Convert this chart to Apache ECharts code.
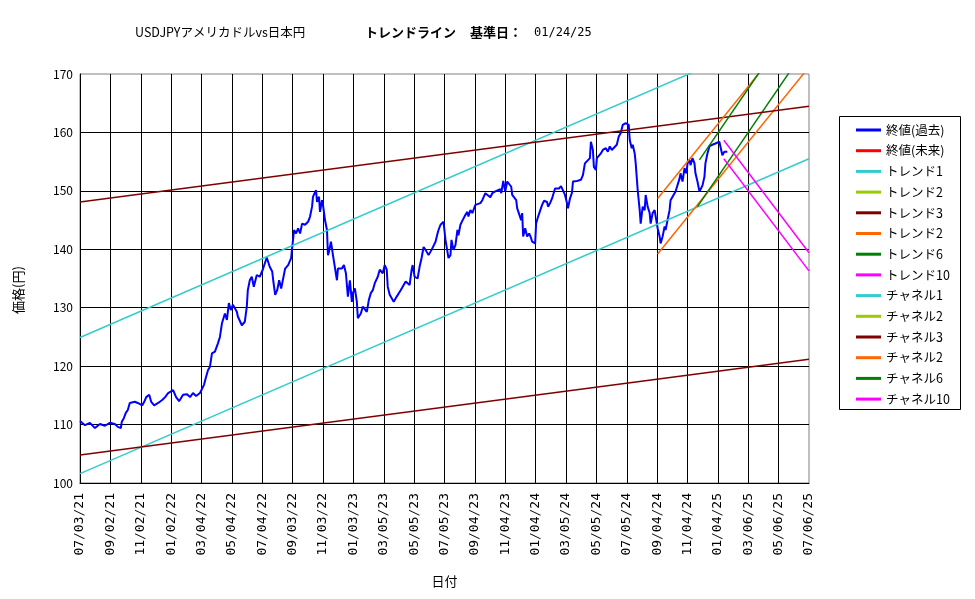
<!DOCTYPE html>
<html>
<head>
<meta charset="utf-8">
<title>USDJPY トレンドライン</title>
<script src="https://cdn.jsdelivr.net/npm/echarts@6/dist/echarts.min.js"></script>
<style>
  html, body { margin: 0; padding: 0; background: #fff; }
  #chart { width: 975px; height: 599px; }
</style>
</head>
<body>
<div id="chart"></div>
<script>
// x軸は 07/03/21 からの経過日数 (61日ごとに目盛り)
const xTickLabels = [
  '07/03/21', '09/02/21', '11/02/21', '01/02/22', '03/04/22', '05/04/22', '07/04/22',
  '09/03/22', '11/03/22', '01/03/23', '03/05/23', '05/05/23', '07/05/23', '09/04/23',
  '11/04/23', '01/04/24', '03/05/24', '05/05/24', '07/05/24', '09/04/24', '11/04/24',
  '01/04/25', '03/06/25', '05/06/25', '07/06/25'
]
const tickDays = 61
const yTicks = [100, 110, 120, 130, 140, 150, 160, 170]

// 終値(過去)
const closeDays = [
  0, 10, 20, 30, 40, 50, 60, 70, 76, 82, 84, 88, 92, 96, 100, 104, 110, 116, 120, 125,
  129, 133, 139, 143, 149, 157, 165, 171, 177, 187, 193, 199, 207, 215, 221, 227, 233, 241, 245, 249,
  253, 257, 261, 265, 271, 277, 281, 285, 291, 295, 299, 303, 307, 315, 317, 325, 331, 335, 337, 341,
  345, 349, 355, 361, 367, 375, 381, 386, 388, 392, 396, 400, 404, 408, 412, 418, 424, 426, 430, 434,
  438, 442, 446, 452, 458, 462, 466, 468, 474, 476, 480, 482, 486, 488, 492, 496, 498, 500, 504, 508,
  512, 516, 518, 526, 530, 534, 538, 542, 546, 548, 552, 556, 558, 564, 568, 572, 576, 580, 584, 588,
  592, 598, 602, 608, 612, 616, 618, 622, 626, 630, 636, 638, 644, 648, 654, 658, 662, 666, 668, 672,
  678, 682, 686, 690, 694, 698, 700, 706, 710, 714, 718, 720, 724, 726, 730, 734, 738, 740, 744, 746,
  750, 754, 758, 760, 764, 768, 774, 778, 780, 784, 788, 794, 798, 804, 808, 814, 818, 824, 828, 834,
  838, 844, 846, 850, 854, 858, 862, 866, 868, 872, 876, 878, 882, 886, 888, 890, 894, 898, 902, 906,
  908, 914, 916, 920, 924, 928, 932, 938, 940, 944, 948, 954, 958, 962, 966, 970, 974, 978, 980, 984,
  988, 990, 998, 1006, 1010, 1014, 1018, 1024, 1026, 1030, 1032, 1036, 1038, 1042, 1046, 1050, 1056, 1060, 1064, 1068,
  1072, 1078, 1082, 1086, 1090, 1096, 1098, 1102, 1104, 1108, 1110, 1114, 1116, 1120, 1124, 1126, 1130, 1134, 1136, 1140,
  1144, 1146, 1150, 1154, 1156, 1160, 1164, 1166, 1170, 1174, 1176, 1180, 1184, 1186, 1190, 1196, 1200, 1204, 1206, 1210,
  1214, 1218, 1220, 1224, 1226, 1230, 1234, 1236, 1240, 1244, 1246, 1250, 1254, 1256, 1260, 1264, 1266, 1270, 1274, 1276,
  1280, 1284, 1286, 1290, 1294, 1296, 1300
]
const closeValues = [
  110.6, 109.9, 110.3, 109.4, 110.1, 109.8, 110.3, 110.1, 109.6, 109.4, 110.5, 111.1, 112.0, 112.5, 113.7, 114.0, 113.9, 113.7, 114.0, 113.3,
  113.9, 114.7, 115.1, 113.9, 113.3, 113.7, 114.2, 114.7, 115.4, 115.9, 114.7, 114.0, 115.1, 115.2, 114.7, 115.4, 114.9, 115.4, 115.2, 116.8,
  118.1, 119.3, 119.9, 122.2, 122.5, 123.9, 125.0, 127.3, 129.0, 127.9, 130.8, 129.6, 130.5, 129.3, 128.5, 127.0, 127.6, 130.2, 133.0, 134.7,
  135.3, 133.6, 135.6, 135.3, 136.5, 138.6, 137.0, 136.2, 134.7, 132.2, 133.0, 134.7, 133.3, 133.6, 136.7, 137.3, 138.5, 140.2, 143.3, 142.7,
  143.6, 142.7, 144.4, 144.2, 144.7, 145.6, 147.3, 149.0, 150.1, 148.1, 149.0, 146.4, 148.4, 147.6, 145.0, 143.3, 139.0, 139.6, 141.3, 139.0,
  138.7, 134.7, 136.7, 136.7, 137.3, 135.9, 131.9, 134.7, 131.0, 132.5, 133.3, 131.0, 128.2, 129.0, 130.2, 130.5, 129.3, 131.3, 132.5, 133.0,
  134.2, 135.3, 136.5, 135.9, 137.3, 136.5, 133.6, 132.2, 131.6, 131.0, 131.9, 131.6, 133.0, 133.6, 134.5, 134.5, 133.9, 136.5, 137.3, 135.3,
  135.0, 137.0, 138.5, 140.4, 139.9, 139.6, 139.0, 139.9, 139.6, 141.3, 142.7, 143.3, 144.2, 144.4, 144.7, 141.6, 141.3, 138.5, 139.0, 141.6,
  139.9, 140.7, 143.3, 142.4, 144.2, 144.9, 145.9, 146.4, 145.6, 146.7, 146.2, 147.6, 147.3, 147.9, 148.4, 149.6, 149.9, 148.9, 149.6, 149.9,
  150.0, 150.3, 149.6, 151.7, 149.9, 151.6, 151.9, 150.7, 149.3, 149.0, 148.4, 147.0, 146.7, 145.0, 146.2, 142.2, 143.6, 142.2, 142.7, 141.9,
  141.3, 141.0, 144.4, 145.6, 145.9, 147.6, 148.3, 148.1, 147.3, 147.9, 148.7, 150.4, 150.1, 150.4, 150.8, 150.7, 149.3, 147.9, 147.0, 148.7,
  149.7, 151.6, 151.7, 151.9, 152.7, 154.7, 155.0, 155.6, 158.4, 157.0, 154.1, 153.6, 155.6, 155.3, 156.4, 157.0, 157.3, 156.7, 157.6, 157.0,
  156.7, 157.9, 159.3, 159.9, 161.3, 161.6, 161.8, 161.3, 158.7, 157.3, 157.9, 156.4, 154.7, 150.1, 146.7, 144.4, 147.3, 146.7, 149.3, 147.3,
  146.2, 144.4, 146.2, 146.7, 146.7, 143.6, 142.2, 141.0, 142.2, 143.9, 143.3, 145.0, 146.7, 148.4, 148.7, 149.9, 150.1, 152.1, 153.0, 151.6,
  153.9, 153.0, 154.7, 155.3, 154.4, 155.6, 154.7, 153.0, 151.6, 149.9, 150.1, 150.9, 152.4, 154.7, 156.4, 157.6, 157.3, 157.9, 157.6, 158.1,
  157.9, 158.4, 158.1, 156.1, 156.7, 156.4, 156.7
]

// トレンドライン / チャネル (始点・終点)
const trend1Days = [0, 1464]
const trend1Values = [101.6, 155.5]
const channel1Days = [0, 1464]
const channel1Values = [124.9, 178.9]
const trend3Days = [0, 1464]
const trend3Values = [104.8, 121.2]
const channel3Days = [0, 1464]
const channel3Values = [148.1, 164.5]
const trend2Days = [1160, 1464]
const trend2Values = [139.2, 171.2]
const channel2Days = [1160, 1464]
const channel2Values = [148.7, 180.7]
const trend6Days = [1240, 1464]
const trend6Values = [147.3, 175.2]
const channel6Days = [1244, 1464]
const channel6Values = [155.3, 182.7]
const trend10Days = [1293, 1464]
const trend10Values = [155.5, 136.3]
const channel10Days = [1293, 1464]
const channel10Values = [158.65, 139.4]

const legendLabels = [
  '終値(過去)', '終値(未来)', 'トレンド1', 'トレンド2', 'トレンド3', 'トレンド2', 'トレンド6', 'トレンド10',
  'チャネル1', 'チャネル2', 'チャネル3', 'チャネル2', 'チャネル6', 'チャネル10'
]

const FONT = '"Noto Sans CJK JP", "Noto Sans", sans-serif'
const MONO = '"DejaVu Sans Mono", "Liberation Mono", monospace'

function zip(days, values) {
  return days.map((d, i) => [d, values[i]])
}

function lineSeries(idx, color, data, width) {
  return {
    name: 's' + idx,
    type: 'line',
    data: data,
    symbol: 'none',
    clip: true,
    lineStyle: { color: color, width: width || 1.5 },
    itemStyle: { color: color }
  }
}

const chart = echarts.init(document.getElementById('chart'))

const option = {
  animation: false,
  backgroundColor: '#fff',
  textStyle: { fontFamily: FONT },
  title: {
    left: 135,
    top: 26,
    padding: 0,
    text: '{a|USDJPYアメリカドルvs日本円}{b|トレンドライン}{d|基準日：}{c|01/24/25}',
    textStyle: {
      rich: {
        a: { fontFamily: FONT, fontSize: 12.5, fontWeight: 'normal', color: '#000', width: 230 },
        b: { fontFamily: FONT, fontSize: 13, fontWeight: 'bold', color: '#000', width: 105 },
        d: { fontFamily: FONT, fontSize: 13, fontWeight: 'bold', color: '#000', width: 64 },
        c: { fontFamily: MONO, fontSize: 12, fontWeight: 'normal', color: '#000' }
      }
    }
  },
  grid: {
    left: 80,
    right: 166,
    top: 74,
    bottom: 116,
    show: true,
    borderColor: '#808080',
    borderWidth: 1
  },
  legend: {
    orient: 'vertical',
    left: 856,
    top: 123,
    padding: 0,
    itemGap: 6.7,
    itemWidth: 25,
    itemHeight: 3,
    icon: 'rect',
    selectedMode: false,
    data: legendLabels.map((l, i) => 's' + i),
    formatter: (name) => legendLabels[Number(name.slice(1))],
    textStyle: { fontFamily: FONT, fontSize: 12.5, lineHeight: 14, color: '#000' }
  },
  graphic: [
    {
      type: 'rect',
      shape: { x: 839.5, y: 116.5, width: 121, height: 293 },
      style: { fill: 'none', stroke: '#000', lineWidth: 1 },
      silent: true
    },
    {
      type: 'text',
      x: 18,
      y: 290,
      rotation: Math.PI / 2,
      style: {
        text: '価格(円)',
        font: '13px ' + FONT,
        fill: '#000',
        align: 'center',
        verticalAlign: 'middle'
      },
      silent: true
    }
  ],
  xAxis: {
    type: 'value',
    min: 0,
    max: tickDays * (xTickLabels.length - 1),
    interval: tickDays,
    name: '日付',
    nameLocation: 'middle',
    nameGap: 92,
    nameTextStyle: { fontFamily: FONT, fontSize: 13, color: '#000' },
    axisLine: { show: true, lineStyle: { color: '#000', width: 1 } },
    axisTick: { show: false },
    axisLabel: {
      rotate: 90,
      margin: 10,
      fontFamily: MONO,
      fontSize: 13,
      color: '#000',
      formatter: (v) => xTickLabels[Math.round(v / tickDays)] || ''
    },
    splitLine: { show: true, showMaxLine: false, lineStyle: { color: '#000', width: 1 } }
  },
  yAxis: {
    type: 'value',
    min: yTicks[0],
    max: yTicks[yTicks.length - 1],
    interval: 10,
    axisLine: { show: true, lineStyle: { color: '#000', width: 1 } },
    axisTick: { show: false },
    axisLabel: { margin: 7, fontFamily: FONT, fontSize: 12, color: '#000' },
    splitLine: { show: true, showMaxLine: false, lineStyle: { color: '#000', width: 1 } }
  },
  series: [
    lineSeries(0, '#0000FF', zip(closeDays, closeValues), 2),
    lineSeries(1, '#FF0000', []),
    lineSeries(2, '#33CCCC', zip(trend1Days, trend1Values)),
    lineSeries(3, '#99CC00', []),
    lineSeries(4, '#800000', zip(trend3Days, trend3Values)),
    lineSeries(5, '#FF6600', zip(trend2Days, trend2Values)),
    lineSeries(6, '#008000', zip(trend6Days, trend6Values)),
    lineSeries(7, '#FF00FF', zip(trend10Days, trend10Values)),
    lineSeries(8, '#33CCCC', zip(channel1Days, channel1Values)),
    lineSeries(9, '#99CC00', []),
    lineSeries(10, '#800000', zip(channel3Days, channel3Values)),
    lineSeries(11, '#FF6600', zip(channel2Days, channel2Values)),
    lineSeries(12, '#008000', zip(channel6Days, channel6Values)),
    lineSeries(13, '#FF00FF', zip(channel10Days, channel10Values))
  ]
}

chart.setOption(option)
</script>
</body>
</html>
